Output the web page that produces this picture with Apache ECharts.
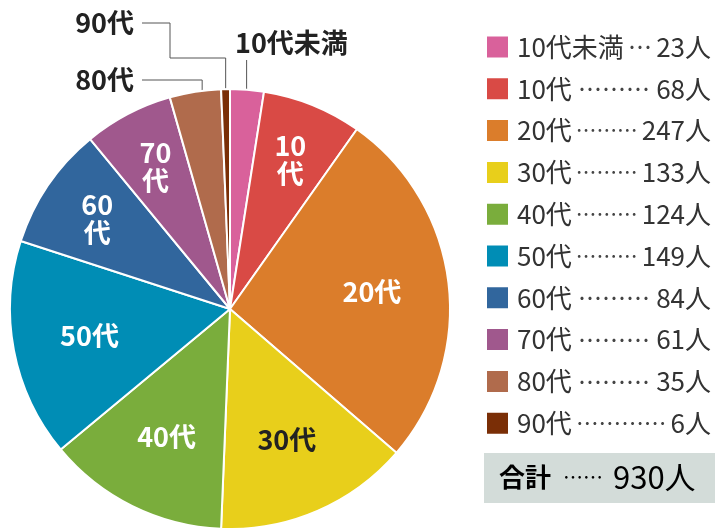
<!DOCTYPE html>
<html>
<head>
<meta charset="utf-8">
<script src="https://cdn.jsdelivr.net/npm/echarts@6/dist/echarts.min.js"></script>
<style>
  html, body { margin: 0; padding: 0; background: #fff; }
  #main { width: 717px; height: 528px; }
</style>
</head>
<body>
<div id="main"></div>
<script>
const categories = ['10代未満', '10代', '20代', '30代', '40代', '50代', '60代', '70代', '80代', '90代']
const counts = [23, 68, 247, 133, 124, 149, 84, 61, 35, 6]
const colors = ['#d9619b', '#d94a45', '#db7d2b', '#e8cf1b', '#7aad3c', '#008db5', '#31669d', '#a0588d', '#b06b4c', '#7a2e06']
const unit = '人'
const totalName = '合計'

const FONT = '"Noto Sans CJK JP", "Noto Sans", sans-serif'
const total = counts.reduce((a, b) => a + b, 0)
const cx = 230
const cy = 309
const radius = 220

// mid angle of each slice, clockwise from 12 o'clock
const midAngle = []
let acc = 0
counts.forEach(v => {
  midAngle.push((acc + v / 2) / total * Math.PI * 2)
  acc += v
})

// legend: name …… value, value right aligned
const ctx = document.createElement('canvas').getContext('2d')
const LEG_SIZE = 26
const DOT_SIZE = 22
const LEG_W = 194
function textW(s) {
  ctx.font = 'normal ' + LEG_SIZE + 'px ' + FONT
  return ctx.measureText(s).width
}
const legendRich = {
  n: { fontFamily: FONT, fontSize: LEG_SIZE, color: '#333' },
  v: { fontFamily: FONT, fontSize: LEG_SIZE, color: '#333' }
}
const legendDots = categories.map((name, i) => {
  const free = LEG_W - textW(name) - textW(counts[i] + unit)
  const n = Math.max(1, Math.round((free - 8) / DOT_SIZE))
  const size = Math.min(24, (free - 8) / n)
  legendRich['d' + i] = { fontFamily: FONT, fontSize: size, color: '#444', width: free, align: 'center' }
  return '…'.repeat(n)
})
function legendText(name) {
  const i = categories.indexOf(name)
  return '{n|' + name + '}{d' + i + '|' + legendDots[i] + '}{v|' + counts[i] + unit + '}'
}

const outside = {
  '10代未満': { x: 235, y: 43, align: 'left', line: s => [s, [s[0], 60]] },
  '80代': { x: 134, y: 80, align: 'right', line: s => [[s[0] + 6, s[1] + 2], [s[0] + 6, 80], [142, 80]] },
  '90代': { x: 134, y: 23, align: 'right', line: s => [s, [s[0], 58], [170, 58], [170, 23], [142, 23]] }
}

const seriesData = categories.map((name, i) => {
  const item = { name: name, value: counts[i], itemStyle: { color: colors[i] } }
  if (outside[name]) {
    item.label = { position: 'outside', color: '#222' }
    item.labelLine = { show: true, lineStyle: { color: '#555', width: 1 } }
  } else if (name === '30代') {
    item.label = { color: '#222' }
  }
  return item
})

const chart = echarts.init(document.getElementById('main'))
chart.setOption({
  animation: false,
  legend: {
    orient: 'vertical',
    left: 485,
    top: 34,
    padding: 0,
    icon: 'rect',
    itemWidth: 23,
    itemHeight: 23,
    itemGap: 15.8,
    selectedMode: false,
    data: categories,
    formatter: legendText,
    textStyle: {
      fontFamily: FONT,
      fontSize: LEG_SIZE,
      color: '#333',
      padding: [0, 0, 0, 3],
      rich: legendRich
    }
  },
  graphic: [
    {
      type: 'rect',
      left: 484,
      top: 453,
      shape: { width: 231, height: 50 },
      style: { fill: '#d3dcd9' },
      silent: true
    },
    {
      type: 'text',
      left: 499,
      top: 462,
      style: {
        text: '{b|' + totalName + '}{d|……}{v|' + total + unit + '}',
        rich: {
          b: { fontFamily: FONT, fontSize: 26, fontWeight: 'bold', color: '#222', padding: [0, 12, 0, 0] },
          d: { fontFamily: FONT, fontSize: 20, color: '#444', padding: [0, 10, 0, 0] },
          v: { fontFamily: FONT, fontSize: 31, color: '#333' }
        }
      }
    }
  ],
  series: [
    {
      type: 'pie',
      center: [cx, cy],
      radius: radius,
      startAngle: 90,
      clockwise: true,
      avoidLabelOverlap: false,
      itemStyle: { borderColor: '#fff', borderWidth: 2 },
      label: {
        position: 'inside',
        fontFamily: FONT,
        fontSize: 27,
        fontWeight: 'bold',
        color: '#fff',
        lineHeight: 28,
        formatter: p => (p.value < 100 && p.value >= 50 ? p.name.replace('代', '\n代') : p.name)
      },
      labelLayout: function (p) {
        const i = p.dataIndex
        const name = categories[i]
        const a = midAngle[i]
        if (outside[name]) {
          const o = outside[name]
          const r = radius - 6
          const s = [cx + r * Math.sin(a), cy - r * Math.cos(a)]
          return {
            x: o.x, y: o.y, align: o.align, verticalAlign: 'middle',
            labelLinePoints: o.line(s)
          }
        }
        const R = radius * (counts[i] < 100 ? 0.73 : 0.65)
        return {
          x: cx + R * Math.sin(a),
          y: cy - R * Math.cos(a),
          align: 'center',
          verticalAlign: 'middle'
        }
      },
      data: seriesData
    }
  ]
})
window.onresize = () => {
  chart.resize()
}
</script>
</body>
</html>
